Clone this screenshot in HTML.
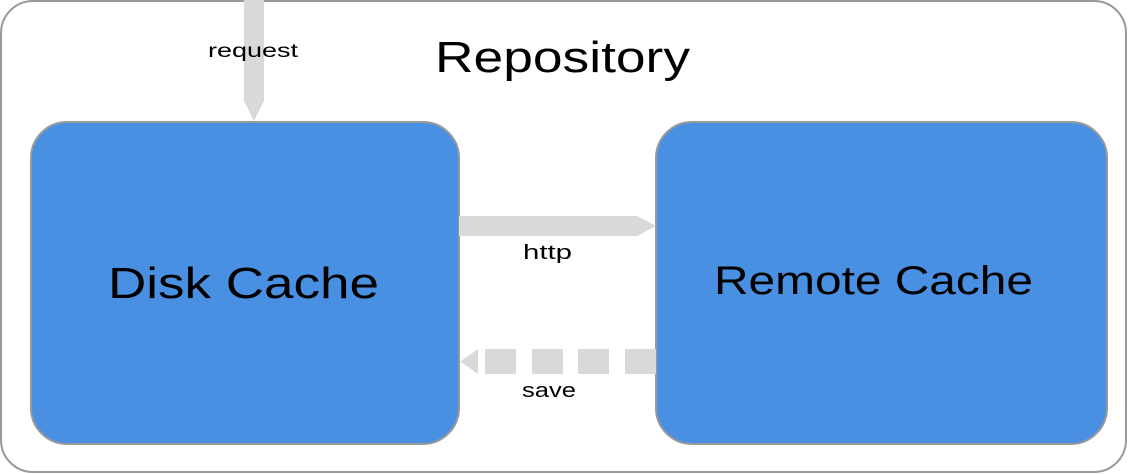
<!DOCTYPE html>
<html><head><meta charset="utf-8"><style>
body{margin:0;background:#fff}
svg{display:block}
text{font-family:"Liberation Sans",sans-serif;fill:#000}
</style></head><body>
<svg width="1128" height="474" viewBox="0 0 1128 474">
<rect x="1" y="1" width="1125" height="471" rx="32" fill="#fff" stroke="#999" stroke-width="2"/>
<rect x="31" y="122" width="428" height="322" rx="36" fill="#4a90e2" stroke="#999" stroke-width="2"/>
<rect x="656" y="122" width="451" height="322" rx="36" fill="#4a90e2" stroke="#999" stroke-width="2"/>
<rect x="244" y="0" width="20" height="101" fill="#d9d9d9"/>
<polygon points="244,101 264,101 254,121" fill="#d9d9d9"/>
<rect x="459" y="216" width="178" height="20" fill="#d9d9d9"/>
<polygon points="637,216 656,226 637,236" fill="#d9d9d9"/>
<g fill="#d9d9d9">
<rect x="485" y="349" width="31" height="25"/>
<rect x="532" y="349" width="31" height="25"/>
<rect x="578" y="349" width="31" height="25"/>
<rect x="625" y="349" width="31" height="25"/>
<polygon points="478,349 478,374 460,361.5"/>
</g>
<text x="208" y="57" font-size="19" textLength="90" lengthAdjust="spacingAndGlyphs">request</text>
<text x="435" y="72" font-size="44" textLength="255" lengthAdjust="spacingAndGlyphs">Repository</text>
<text x="108" y="298" font-size="44" textLength="271" lengthAdjust="spacingAndGlyphs">Disk Cache</text>
<text x="714" y="294" font-size="40" textLength="319" lengthAdjust="spacingAndGlyphs">Remote Cache</text>
<text x="523" y="259" font-size="20" textLength="49" lengthAdjust="spacingAndGlyphs">http</text>
<text x="522" y="397" font-size="20" textLength="54" lengthAdjust="spacingAndGlyphs">save</text>
</svg>
</body></html>
